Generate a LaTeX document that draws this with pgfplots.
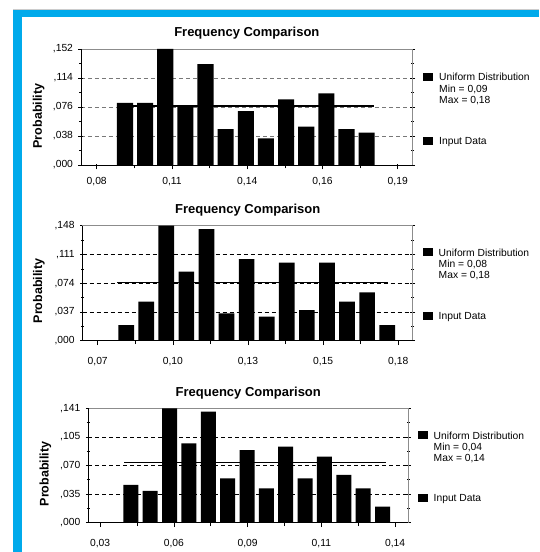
\documentclass[border=0pt]{standalone}
\usepackage{fontspec}
\setmainfont{Liberation Sans}
\usepackage{pgfplots}
\pgfplotsset{compat=1.18}
\definecolor{frameblue}{RGB}{0,170,235}
\definecolor{gridgray}{RGB}{120,120,120}
\definecolor{bordergray}{RGB}{140,140,140}
\newcommand{\lgfont}{\fontsize{10.3}{12}\selectfont}
\pgfplotsset{
  freqaxis/.style={
    scale only axis,
    anchor=south west,
    ymin=0,
    axis line style={draw=bordergray, line width=0.8pt},
    tick style={black, line width=0.6pt},
    tick align=center,
    major tick length=5pt,
    minor tick length=3pt,
    xtick pos=left,
    ytick pos=both,
    x tick style={yshift=-2pt},
    minor x tick num=1,
    minor y tick num=1,
    ymajorgrids,
    title style={font=\bfseries\fontsize{13}{15}\selectfont, yshift=0pt},
    tick label style={font=\lgfont},
    yticklabel style={xshift=-2pt},
    xticklabel style={yshift=-6pt},
    /pgf/number format/assume math mode=true,
    ylabel style={font=\bfseries\fontsize{12.5}{14}\selectfont, anchor=center, rotate=0},
    clip=false,
  }
}
\begin{document}
\begin{tikzpicture}
\path[use as bounding box] (0pt,0pt) rectangle (539pt,552pt);
\fill[white] (0pt,0pt) rectangle (539pt,552pt);
\fill[frameblue] (13pt,0pt) rectangle (21.5pt,543pt);
\fill[frameblue] (13pt,534.5pt) rectangle (539pt,543pt);
\draw[gray!40, line width=0.5pt] (13pt,543pt) -- (539pt,543pt);

% ---------------- Panel 1 ----------------
\begin{axis}[freqaxis,
  at={(81pt,387pt)}, width=331.7pt, height=116pt,
  xmin=-2.186, xmax=14.29, ymax=0.152,
  xtick={-1.406,2.332,6.070,9.808,13.546},
  xticklabels={{0,08},{0,11},{0,14},{0,16},{0,19}},
  ytick={0,0.038,0.076,0.114,0.152},
  yticklabels={{,000},{,038},{,076},{,114},{,152}},
  grid style={gridgray, dash pattern=on 4pt off 3pt, line width=0.6pt},
  title={Frequency Comparison},
  ylabel={Probability},
  ylabel style={at={(axis description cs:-0.128,0.422)}},
]
\addplot[ybar, bar width=0.8, fill=black, draw=none] coordinates {
 (0,0.0815) (1,0.0815) (2,0.152) (3,0.0784) (4,0.1322) (5,0.0471) (6,0.0705)
 (7,0.0348) (8,0.0859) (9,0.0502) (10,0.0938) (11,0.0471) (12,0.0423)};
\addplot[black, line width=1.3pt] coordinates {(-0.4,0.0775) (12.35,0.0775)};
\draw[black, line width=0.8pt] (rel axis cs:0,1) -- (rel axis cs:0,0) -- (rel axis cs:1,0);
\end{axis}
\node[anchor=west, inner sep=0pt] at (423pt,475pt) {\rule{10pt}{8pt}};
\node[anchor=base west, inner sep=0pt, font=\lgfont] at (439pt,471.2pt) {Uniform Distribution};
\node[anchor=base west, inner sep=0pt, font=\lgfont] at (439pt,459.2pt) {Min = 0,09};
\node[anchor=base west, inner sep=0pt, font=\lgfont] at (439pt,448.2pt) {Max = 0,18};
\node[anchor=west, inner sep=0pt] at (423pt,411.3pt) {\rule{10pt}{8pt}};
\node[anchor=base west, inner sep=0pt, font=\lgfont] at (439pt,407.5pt) {Input Data};

% ---------------- Panel 2 ----------------
\begin{axis}[freqaxis,
  at={(82.7pt,211.3pt)}, width=330pt, height=115pt,
  xmin=-2.165, xmax=14.27, ymax=0.148,
  xtick={-1.418,2.324,6.066,9.808,13.55},
  xticklabels={{0,07},{0,10},{0,13},{0,15},{0,18}},
  ytick={0,0.037,0.074,0.111,0.148},
  yticklabels={{,000},{,037},{,074},{,111},{,148}},
  grid style={black, dash pattern=on 4pt off 3pt, line width=0.6pt},
  xticklabel style={yshift=-4.5pt},
  title={Frequency Comparison},
  ylabel={Probability},
  ylabel style={at={(axis description cs:-0.133,0.432)}},
]
\addplot[ybar, bar width=0.78, fill=black, draw=none] coordinates {
 (0,0.0202) (1,0.0502) (2,0.148) (3,0.0888) (4,0.1437) (5,0.0352) (6,0.1051)
 (7,0.0309) (8,0.1004) (9,0.0395) (10,0.1004) (11,0.0502) (12,0.0622) (13,0.0202)};
\addplot[black, line width=1.3pt] coordinates {(-0.44,0.0745) (13.06,0.0745)};
\draw[black, line width=0.8pt] (rel axis cs:0,1) -- (rel axis cs:0,0) -- (rel axis cs:1,0);
\end{axis}
\node[anchor=west, inner sep=0pt] at (423pt,299.5pt) {\rule{10pt}{8pt}};
\node[anchor=base west, inner sep=0pt, font=\lgfont] at (438.5pt,295.7pt) {Uniform Distribution};
\node[anchor=base west, inner sep=0pt, font=\lgfont] at (438.5pt,284.2pt) {Min = 0,08};
\node[anchor=base west, inner sep=0pt, font=\lgfont] at (438.5pt,273.2pt) {Max = 0,18};
\node[anchor=west, inner sep=0pt] at (423pt,236pt) {\rule{10pt}{8pt}};
\node[anchor=base west, inner sep=0pt, font=\lgfont] at (438.5pt,232.2pt) {Input Data};

% ---------------- Panel 3 ----------------
\begin{axis}[freqaxis,
  at={(88.3pt,29.3pt)}, width=320pt, height=114.4pt,
  xmin=-2.197, xmax=14.33, ymax=0.141,
  xtick={-1.59,2.22,6.03,9.84,13.65},
  xticklabels={{0,03},{0,06},{0,09},{0,11},{0,14}},
  ytick={0,0.03525,0.0705,0.10575,0.141},
  yticklabels={{,000},{,035},{,070},{,105},{,141}},
  grid style={black, dash pattern=on 4pt off 3pt, line width=0.6pt},
  xticklabel style={yshift=-4.5pt},
  title={Frequency Comparison},
  ylabel={Probability},
  ylabel style={at={(axis description cs:-0.134,0.426)}},
]
\addplot[ybar, bar width=0.775, fill=black, draw=none] coordinates {
 (0,0.0465) (1,0.0391) (2,0.141) (3,0.0978) (4,0.1369) (5,0.0547) (6,0.0896)
 (7,0.0423) (8,0.0937) (9,0.0547) (10,0.0814) (11,0.0588) (12,0.0423) (13,0.0197)};
\addplot[black, line width=1.3pt] coordinates {(-0.353,0.0744) (13.18,0.0744)};
\draw[black, line width=0.8pt] (rel axis cs:0,1) -- (rel axis cs:0,0) -- (rel axis cs:1,0);
\end{axis}
\node[anchor=west, inner sep=0pt] at (417.5pt,116.5pt) {\rule{10pt}{8pt}};
\node[anchor=base west, inner sep=0pt, font=\lgfont] at (433.5pt,112.7pt) {Uniform Distribution};
\node[anchor=base west, inner sep=0pt, font=\lgfont] at (433.5pt,101.2pt) {Min = 0,04};
\node[anchor=base west, inner sep=0pt, font=\lgfont] at (433.5pt,90.2pt) {Max = 0,14};
\node[anchor=west, inner sep=0pt] at (417.5pt,54pt) {\rule{10pt}{8pt}};
\node[anchor=base west, inner sep=0pt, font=\lgfont] at (433.5pt,50.2pt) {Input Data};
\end{tikzpicture}
\end{document}
